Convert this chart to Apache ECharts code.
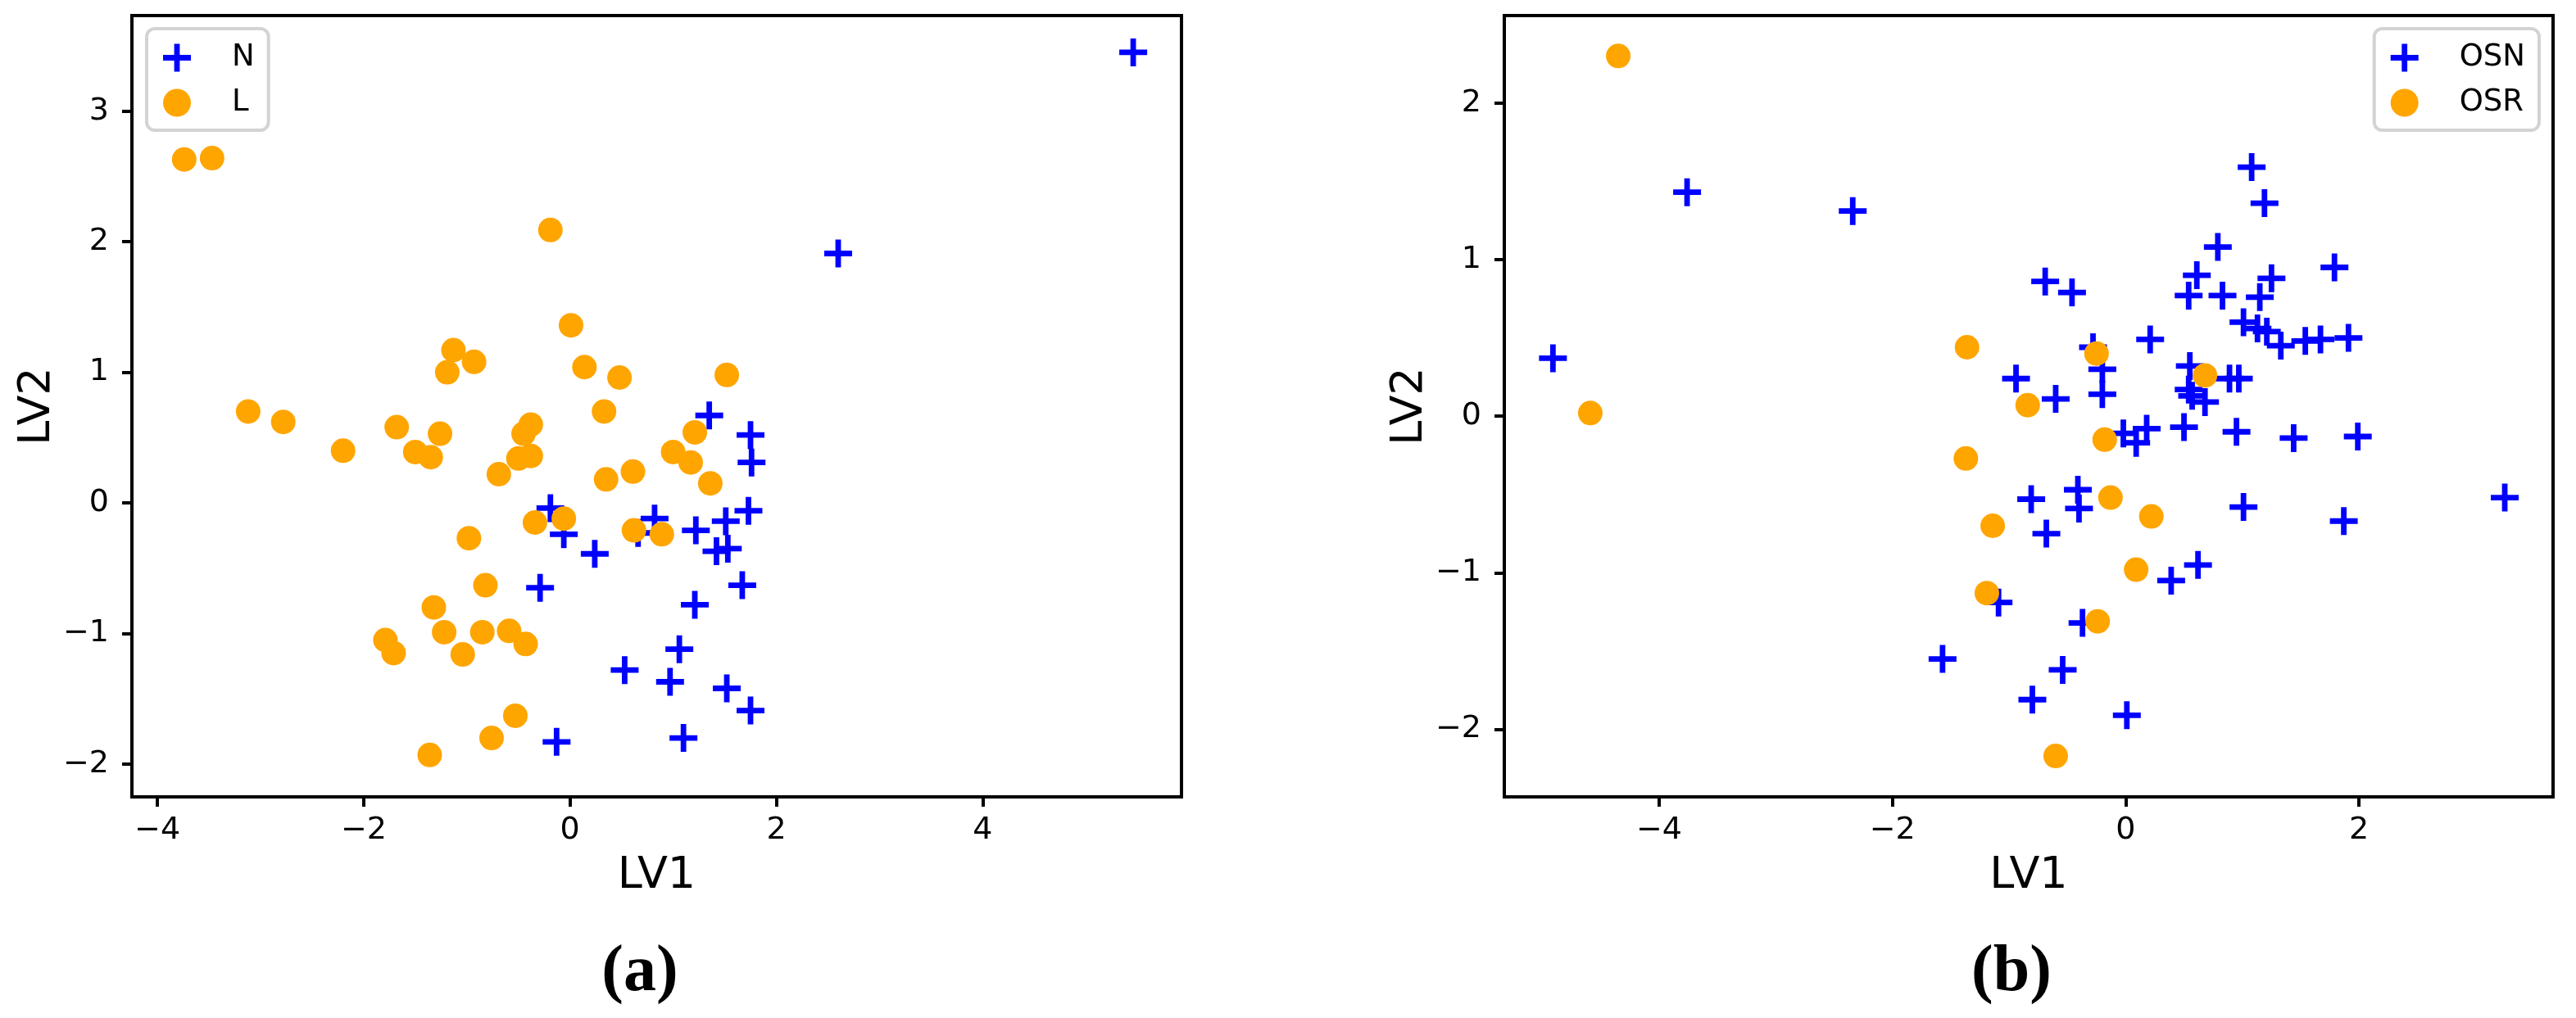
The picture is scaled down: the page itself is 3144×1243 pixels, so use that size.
<!DOCTYPE html>
<html>
<head>
<meta charset="utf-8">
<title>LV1 / LV2 scores</title>
<script src="https://cdn.jsdelivr.net/npm/echarts@6/dist/echarts.min.js"></script>
<style>
  html, body { margin: 0; padding: 0; background: #fff; }
  #chart { width: 3144px; height: 1243px; }
</style>
</head>
<body>
<div id="chart"></div>
<script>
// (a) N / L
const nX = [5.46, 2.60, -0.19, -0.06, 0.24, -0.29, 0.53, -0.13, 0.66, 1.35, 1.75, 1.76, 0.82, 1.73, 1.51, 1.22, 1.42, 1.53, 1.67, 1.21, 1.06, 0.97, 1.52, 1.75, 1.10]
const nY = [3.45, 1.91, -0.04, -0.24, -0.39, -0.65, -1.28, -1.83, -0.23, 0.67, 0.52, 0.31, -0.12, -0.06, -0.14, -0.21, -0.37, -0.35, -0.63, -0.78, -1.12, -1.37, -1.42, -1.59, -1.80]
const lX = [-3.74, -3.47, -0.19, 0.01, -1.13, -0.93, -1.19, 0.14, 0.48, 1.52,
  -3.12, -2.78, -2.20, -1.68, -1.26, -1.50, -1.35, -0.38, -0.45, -0.50, -0.38, -0.69, 0.33, 0.35, 0.61,
  -0.34, -0.06, 0.62, -0.98, -0.82, -1.32, -1.79, -1.71, -1.22, -1.04, -0.85, -0.59, -0.43, -0.53, -0.76, -1.36,
  1.21, 1.00, 1.17, 1.36, 0.89]
const lY = [2.63, 2.64, 2.09, 1.36, 1.17, 1.08, 1.00, 1.04, 0.96, 0.98,
  0.70, 0.62, 0.40, 0.58, 0.53, 0.39, 0.35, 0.60, 0.53, 0.34, 0.36, 0.22, 0.70, 0.18, 0.24,
  -0.15, -0.12, -0.21, -0.27, -0.63, -0.80, -1.05, -1.15, -0.99, -1.16, -0.99, -0.98, -1.08, -1.63, -1.80, -1.93,
  0.54, 0.39, 0.31, 0.15, -0.24]

// (b) OSN / OSR
const osnX = [-3.76, -2.34, -4.91, -1.09, -1.57,
  1.08, 1.19, 0.79, 1.79, 0.61, 1.25, -0.69, -0.46, 0.54, 0.83, 1.15, 1.01, 1.13, 1.21, 1.33, 1.54, 1.67, 1.91,
  0.21, -0.28, -0.20, -0.94, 0.55, 0.54, 0.89, 0.97, 0.68, 0.57, -0.60, -0.20,
  0.18, -0.02, 0.09, 0.50, 0.95, 1.44, 1.99, 3.25, -0.41, -0.81, -0.40, -0.68, 1.01, 1.87, 0.62, 0.39, -0.37, -0.54, -0.80, 0.01]
const osnY = [1.43, 1.31, 0.37, -1.19, -1.55,
  1.59, 1.36, 1.08, 0.95, 0.90, 0.88, 0.86, 0.79, 0.77, 0.77, 0.76, 0.60, 0.56, 0.54, 0.45, 0.48, 0.49, 0.50,
  0.49, 0.44, 0.30, 0.24, 0.32, 0.17, 0.24, 0.24, 0.09, 0.13, 0.11, 0.14,
  -0.08, -0.11, -0.17, -0.07, -0.10, -0.14, -0.13, -0.52, -0.47, -0.53, -0.59, -0.75, -0.58, -0.67, -0.95, -1.05, -1.32, -1.62, -1.81, -1.91]
const osrX = [-4.35, -1.36, -4.59, -1.37, -1.14, -1.19, -0.25, 0.68, -0.84, -0.18, -0.13, 0.22, 0.09, -0.24, -0.60]
const osrY = [2.30, 0.44, 0.02, -0.27, -0.70, -1.13, 0.40, 0.26, 0.07, -0.15, -0.52, -0.64, -0.98, -1.31, -2.17]

// tick labels
const aXTicks = [-4, -2, 0, 2, 4]
const aYTicks = [-2, -1, 0, 1, 2, 3]
const bXTicks = [-4, -2, 0, 2]
const bYTicks = [-2, -1, 0, 1, 2]

const FONT = 'DejaVu Sans'
const PLUS = 'path://M4,0H6V4H10V6H6V10H4V6H0V4H4Z'

const zip = (xs, ys) => xs.map((x, i) => [x, ys[i]])
const minus = v => String(v).replace('-', '\u2212')

function axis (gridIndex, min, max, ticks, name, isY) {
  return {
    type: 'value',
    gridIndex: gridIndex,
    min: min,
    max: max,
    name: name,
    nameLocation: 'middle',
    nameGap: isY ? 74 : 70,
    nameTextStyle: { fontSize: 54, color: '#000', fontFamily: FONT },
    axisLine: { show: true, onZero: false, lineStyle: { color: '#000', width: 4 } },
    axisTick: { show: true, length: 12, customValues: ticks, lineStyle: { color: '#000', width: 4 } },
    axisLabel: {
      customValues: ticks,
      formatter: minus,
      color: '#000',
      fontSize: 38,
      fontFamily: FONT,
      margin: isY ? 28 : 22
    },
    splitLine: { show: false }
  }
}

function legend (names, pos) {
  return Object.assign({
    data: names,
    orient: 'vertical',
    top: 35,
    padding: [17, 17, 15, 20],
    itemWidth: 60,
    itemHeight: 34,
    itemGap: 18,
    borderColor: '#d3d3d3',
    borderWidth: 4,
    borderRadius: 10,
    backgroundColor: '#fff',
    selectedMode: false,
    textStyle: { fontSize: 37, fontFamily: FONT, color: '#000', padding: [0, 0, 0, 32] }
  }, pos)
}

function caption (text, x) {
  return {
    type: 'text',
    x: x,
    y: 1188,
    style: { text: text, font: 'bold 80px "Liberation Serif"', fill: '#000', align: 'center', verticalAlign: 'middle' }
  }
}

const chart = echarts.init(document.getElementById('chart'))
chart.setOption({
  animation: false,
  backgroundColor: '#fff',
  textStyle: { fontFamily: FONT },
  grid: [
    { left: 161, top: 19, width: 1281, height: 954, show: true, borderColor: '#000', borderWidth: 4, backgroundColor: 'transparent' },
    { left: 1836, top: 19, width: 1280, height: 954, show: true, borderColor: '#000', borderWidth: 4, backgroundColor: 'transparent' }
  ],
  xAxis: [
    axis(0, -4.247, 5.928, aXTicks, 'LV1', false),
    axis(1, -5.327, 3.664, bXTicks, 'LV1', false)
  ],
  yAxis: [
    axis(0, -2.251, 3.732, aYTicks, 'LV2', true),
    axis(1, -2.431, 2.558, bYTicks, 'LV2', true)
  ],
  legend: [
    legend(['N', 'L'], { left: 179 }),
    legend(['OSN', 'OSR'], { right: 45 })
  ],
  series: [
    { type: 'scatter', name: 'N', xAxisIndex: 0, yAxisIndex: 0, data: zip(nX, nY), symbol: PLUS, symbolSize: 34, itemStyle: { color: '#0000ff', opacity: 1 }, z: 2 },
    { type: 'scatter', name: 'L', xAxisIndex: 0, yAxisIndex: 0, data: zip(lX, lY), symbol: 'circle', symbolSize: 30, itemStyle: { color: '#ffa500', opacity: 1 }, z: 3 },
    { type: 'scatter', name: 'OSN', xAxisIndex: 1, yAxisIndex: 1, data: zip(osnX, osnY), symbol: PLUS, symbolSize: 34, itemStyle: { color: '#0000ff', opacity: 1 }, z: 2 },
    { type: 'scatter', name: 'OSR', xAxisIndex: 1, yAxisIndex: 1, data: zip(osrX, osrY), symbol: 'circle', symbolSize: 30, itemStyle: { color: '#ffa500', opacity: 1 }, z: 3 }
  ],
  graphic: [
    caption('(a)', 781),
    caption('(b)', 2455)
  ]
})
</script>
</body>
</html>
